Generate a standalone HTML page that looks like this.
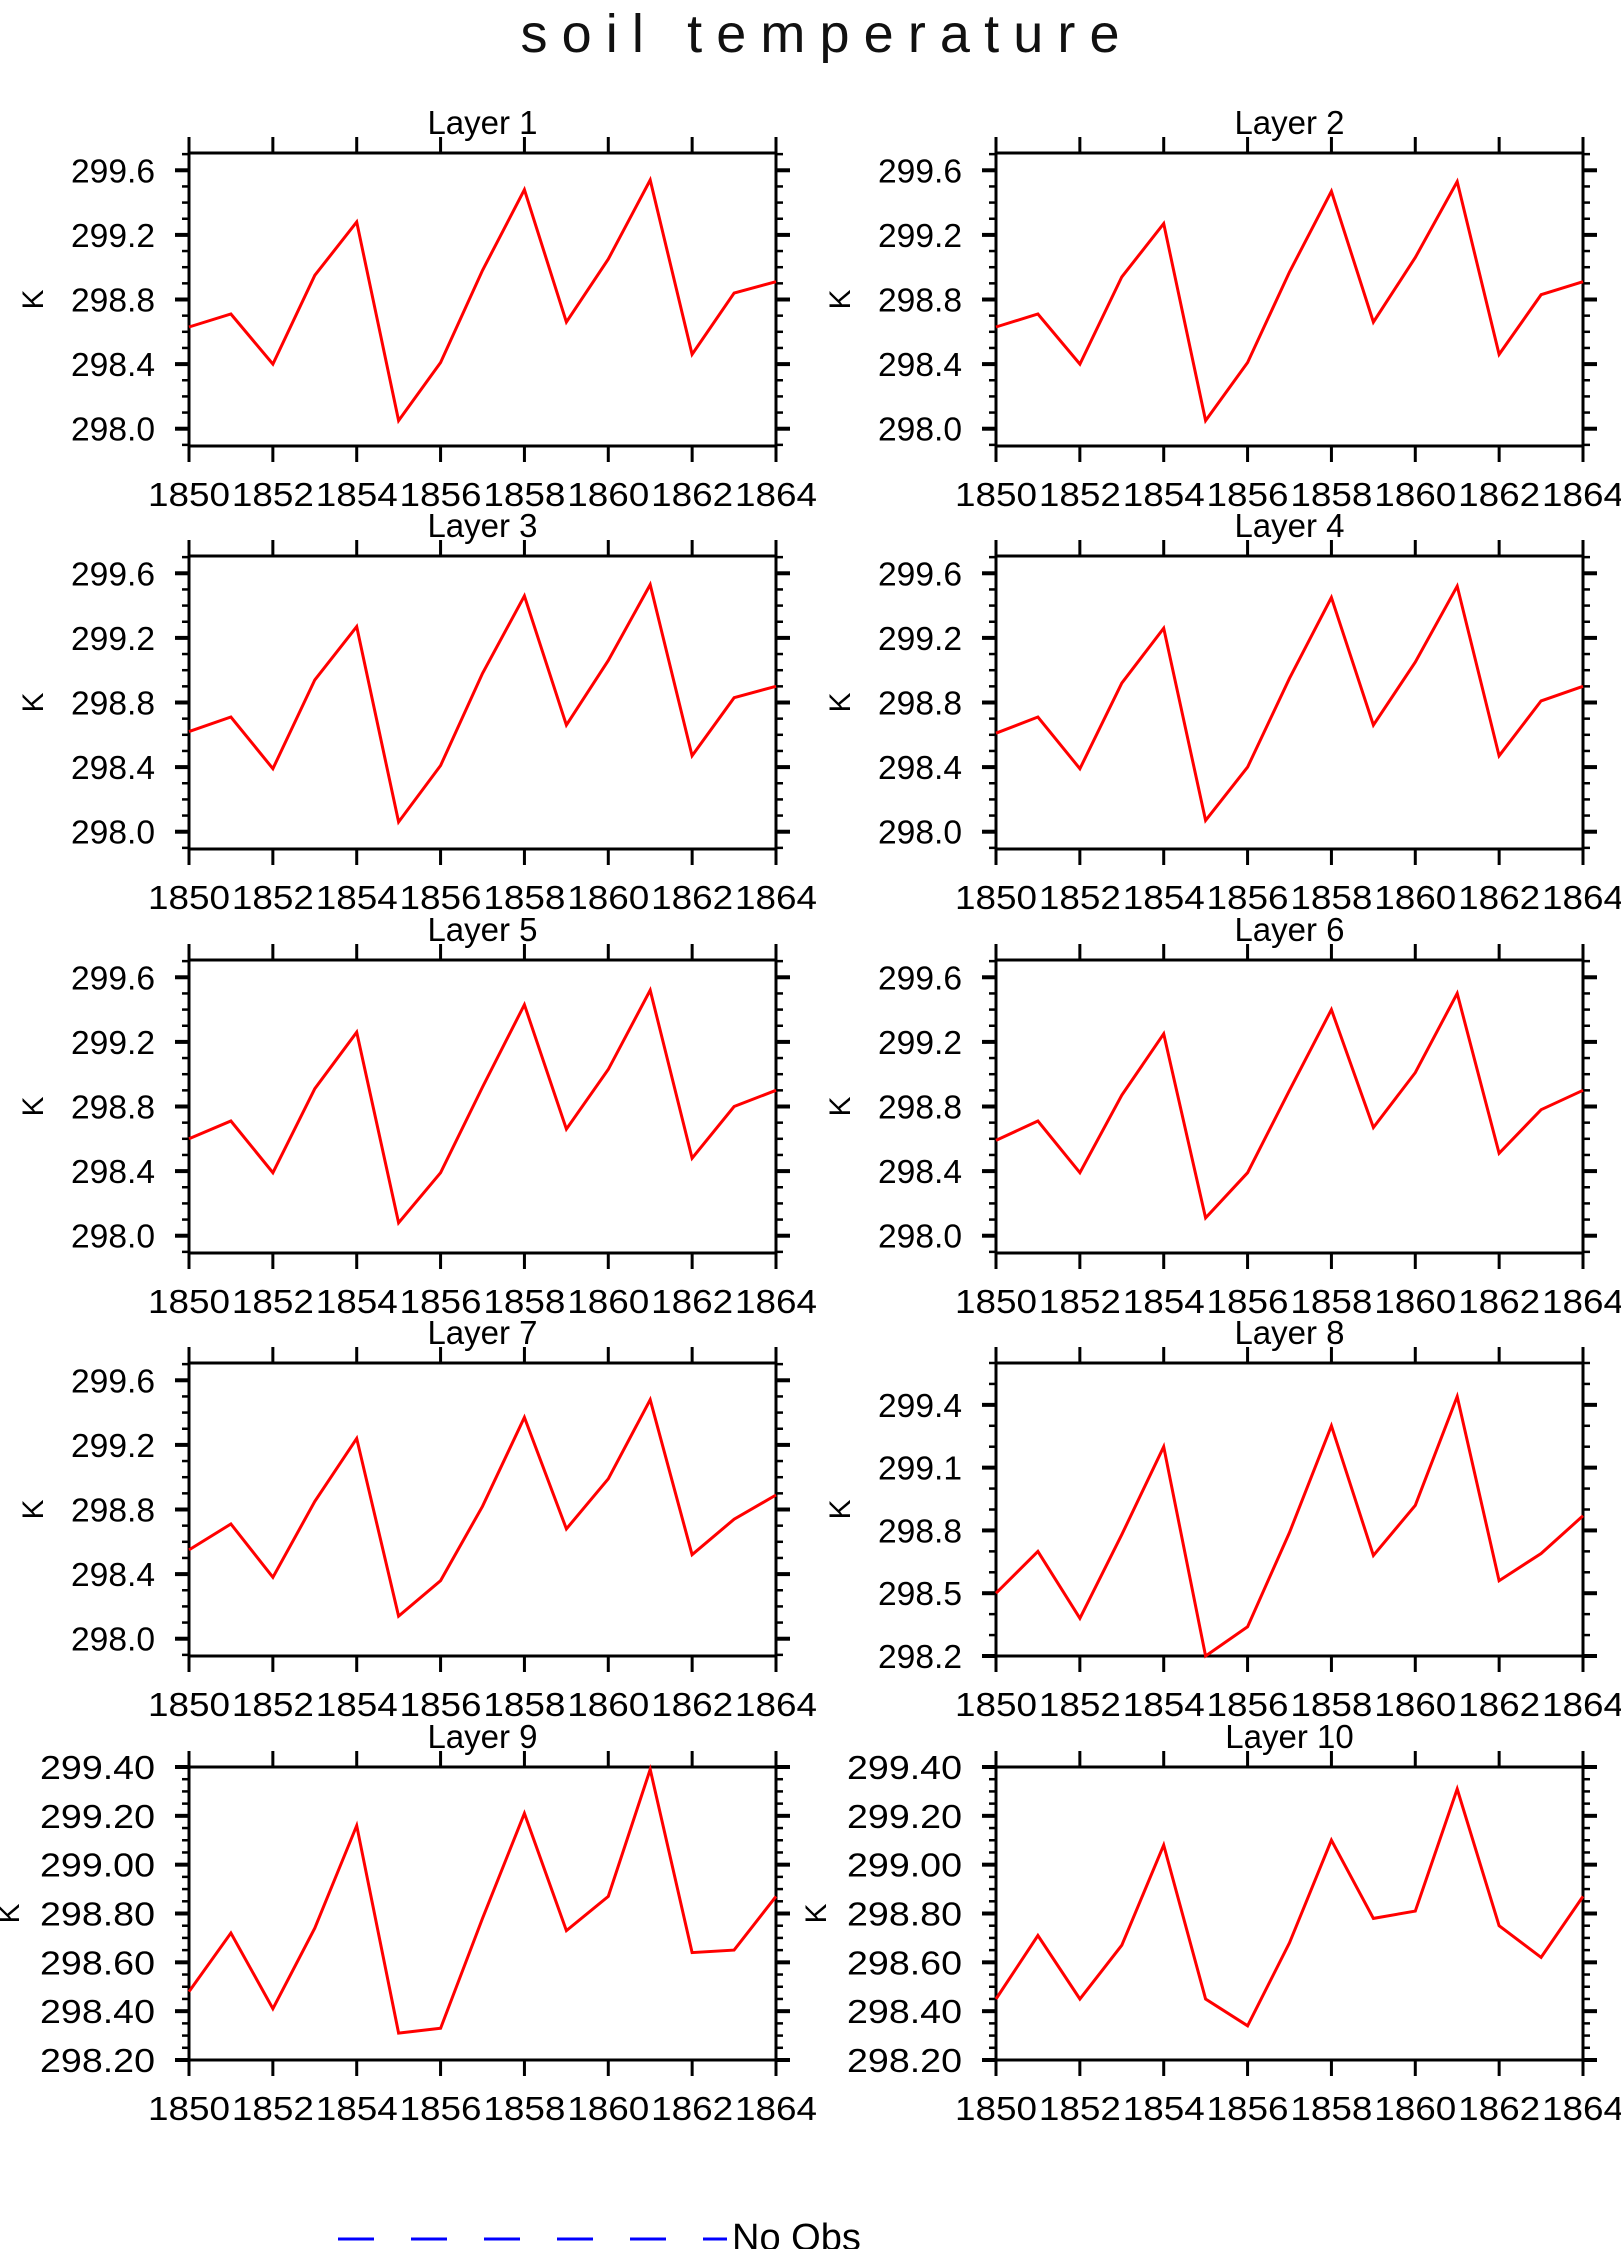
<!DOCTYPE html>
<html><head><meta charset="utf-8">
<style>
html,body{margin:0;padding:0;background:#fff;}
svg{display:block;font-family:"Liberation Sans",sans-serif;}
</style></head>
<body>
<svg id="fig" width="1621" height="2249" viewBox="0 0 1621 2249" xmlns="http://www.w3.org/2000/svg">
<text x="820" y="52" font-size="54" text-anchor="middle" textLength="599" lengthAdjust="spacing" fill="#111">soil temperature</text>
<g>
<line x1="338" y1="2239" x2="727" y2="2239" stroke="#0000ff" stroke-width="3" stroke-dasharray="36,37"/>
<text x="732" y="2250" font-size="38" fill="#000">No Obs</text>
</g>
</svg>
<script>
const years=[1850,1851,1852,1853,1854,1855,1856,1857,1858,1859,1860,1861,1862,1863,1864];
const xTickYears=[1850,1852,1854,1856,1858,1860,1862,1864];
const layer1=[298.63,298.71,298.40,298.95,299.28,298.05,298.41,298.98,299.48,298.66,299.05,299.54,298.46,298.84,298.91];
const layer2=[298.63,298.71,298.40,298.94,299.27,298.05,298.41,298.97,299.47,298.66,299.06,299.53,298.46,298.83,298.91];
const layer3=[298.62,298.71,298.39,298.94,299.27,298.06,298.41,298.98,299.46,298.66,299.06,299.53,298.47,298.83,298.90];
const layer4=[298.61,298.71,298.39,298.92,299.26,298.07,298.40,298.95,299.45,298.66,299.05,299.52,298.47,298.81,298.90];
const layer5=[298.60,298.71,298.39,298.91,299.26,298.08,298.39,298.92,299.43,298.66,299.03,299.52,298.48,298.80,298.90];
const layer6=[298.59,298.71,298.39,298.87,299.25,298.11,298.39,298.90,299.40,298.67,299.01,299.50,298.51,298.78,298.90];
const layer7=[298.55,298.71,298.38,298.85,299.24,298.14,298.36,298.82,299.37,298.68,298.99,299.48,298.52,298.74,298.89];
const layer8=[298.50,298.70,298.38,298.78,299.20,298.20,298.34,298.79,299.30,298.68,298.92,299.44,298.56,298.69,298.87];
const layer9=[298.48,298.72,298.41,298.74,299.16,298.31,298.33,298.78,299.21,298.73,298.87,299.39,298.64,298.65,298.87];
const layer10=[298.45,298.71,298.45,298.67,299.08,298.45,298.34,298.68,299.10,298.78,298.81,299.31,298.75,298.62,298.87];
const ticksA=[298.0,298.4,298.8,299.2,299.6];
const ticksB=[298.2,298.5,298.8,299.1,299.4];
const ticksC=[298.2,298.4,298.6,298.8,299.0,299.2,299.4];

const NS="http://www.w3.org/2000/svg";
const svg=document.getElementById('fig');
function mk(tag,attrs,parent){const e=document.createElementNS(NS,tag);for(const k in attrs)e.setAttribute(k,attrs[k]);parent.appendChild(e);return e;}

const panels=[
 {name:'layer-1',data:layer1,col:0,row:0,ymin:297.893,ymax:299.707,ticks:ticksA,minor:0.1,dec:1},
 {name:'layer-2',data:layer2,col:1,row:0,ymin:297.893,ymax:299.707,ticks:ticksA,minor:0.1,dec:1},
 {name:'layer-3',data:layer3,col:0,row:1,ymin:297.893,ymax:299.707,ticks:ticksA,minor:0.1,dec:1},
 {name:'layer-4',data:layer4,col:1,row:1,ymin:297.893,ymax:299.707,ticks:ticksA,minor:0.1,dec:1},
 {name:'layer-5',data:layer5,col:0,row:2,ymin:297.893,ymax:299.707,ticks:ticksA,minor:0.1,dec:1},
 {name:'layer-6',data:layer6,col:1,row:2,ymin:297.893,ymax:299.707,ticks:ticksA,minor:0.1,dec:1},
 {name:'layer-7',data:layer7,col:0,row:3,ymin:297.893,ymax:299.707,ticks:ticksA,minor:0.1,dec:1},
 {name:'layer-8',data:layer8,col:1,row:3,ymin:298.2,ymax:299.6,ticks:ticksB,minor:0.1,dec:1},
 {name:'layer-9',data:layer9,col:0,row:4,ymin:298.2,ymax:299.4,ticks:ticksC,minor:0.05,dec:2},
 {name:'layer-10',data:layer10,col:1,row:4,ymin:298.2,ymax:299.4,ticks:ticksC,minor:0.05,dec:2}
];
const colX=[189,996], W=587, H=293, rowY=[153,556,960,1363,1767];

panels.forEach((p,i)=>{
 const L=colX[p.col], T=rowY[p.row], R=L+W, B=T+H;
 const xs=v=>L+(v-years[0])/(years[years.length-1]-years[0])*W;
 const ys=v=>B-(v-p.ymin)/(p.ymax-p.ymin)*H;
 const g=mk('g',{},svg);
 
 
 const title=mk('text',{x:L+W/2,y:T-19,'font-size':33,'text-anchor':'middle',fill:'#000'},g);
 
 
 title.textContent='Layer  '+(i+1);
 const kx=p.dec===2?L-170:L-146;
 const yl=mk('text',{x:0,y:0,'font-size':30,'text-anchor':'middle',fill:'#000',transform:`translate(${kx},${T+H/2}) rotate(-90)`},g);
 
 
 yl.textContent='K';
 const start=Math.ceil(p.ymin/p.minor-1e-6);
 for(let k=start;k*p.minor<=p.ymax+1e-6;k++){
  const y=ys(k*p.minor);
  const t1=mk('line',{x1:L-7,y1:y,x2:L,y2:y,stroke:'#000','stroke-width':2.5},g);
  
  
  const t2=mk('line',{x1:R,y1:y,x2:R+7,y2:y,stroke:'#000','stroke-width':2.5},g);
  
  
 }
 p.ticks.forEach(v=>{
  const y=ys(v);
  const t1=mk('line',{x1:L-14,y1:y,x2:L,y2:y,stroke:'#000','stroke-width':4},g);
  
  
  const t2=mk('line',{x1:R,y1:y,x2:R+14,y2:y,stroke:'#000','stroke-width':4},g);
  
  
  const lab=mk('text',{x:L-34,y:y+12,'font-size':33,'text-anchor':'end',fill:'#000',textLength:p.dec===2?115:84,lengthAdjust:'spacingAndGlyphs'},g);
  
  
  lab.textContent=v.toFixed(p.dec);
 });
 xTickYears.forEach(yr=>{
  const x=xs(yr);
  const t1=mk('line',{x1:x,y1:T-16,x2:x,y2:T,stroke:'#000','stroke-width':3},g);
  
  
  const t2=mk('line',{x1:x,y1:B,x2:x,y2:B+16,stroke:'#000','stroke-width':3},g);
  
  
  const lab=mk('text',{x:x,y:B+60,'font-size':33,'text-anchor':'middle',fill:'#000',textLength:82,lengthAdjust:'spacingAndGlyphs'},g);
  
  
  lab.textContent=String(yr);
 });
 const frame=mk('rect',{x:L,y:T,width:W,height:H,fill:'none',stroke:'#000','stroke-width':3},g);
 
 
 const pts=p.data.map((v,j)=>xs(years[j]).toFixed(1)+','+ys(v).toFixed(1)).join(' ');
 const line=mk('polyline',{points:pts,fill:'none',stroke:'#ff0000','stroke-width':3,'stroke-linejoin':'miter'},g);
 
 
});
</script>
</body></html>
